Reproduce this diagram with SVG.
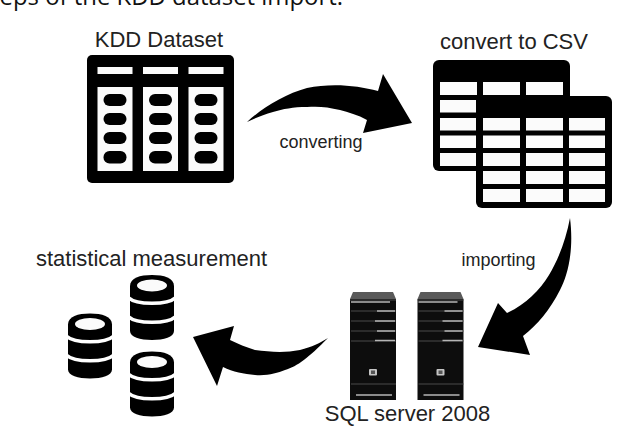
<svg xmlns="http://www.w3.org/2000/svg" width="620" height="426" viewBox="0 0 620 426">
<style>
text{font-family:"Liberation Sans",Arial,sans-serif;fill:#222}
.big{font-size:22px}
.small{font-size:18px}
.w{fill:#fbfbfb}
.k{fill:#000}
.arrow{fill:#000}
.gap{fill:none;stroke:#fff;stroke-width:3.4}
.dim{stroke:#4a4a4a;stroke-width:1;fill:none}
.lit{stroke:#b5b5b5;stroke-width:1.300;fill:none}
</style>
<defs>
<g id="db">
<path class="k" d="M0 11C0 3 10 0 22 0S44 3 44 11V56C44 62 34 65 22 65S0 62 0 56Z"/>
<ellipse class="w" cx="22" cy="10.500" rx="15" ry="6"/>
<path class="gap" d="M-1 23C6 30 38 30 45 23"/>
<path class="gap" d="M-1 42C6 49 38 49 45 42"/>
</g>
<g id="srv">
<path fill="#5a5a5a" d="M3 0H43L46 7H0Z"/>
<rect x="0" y="7" width="46" height="101" fill="#0d0d0d"/>
<path class="dim" d="M0 8H46M1 19H46M1 29H46M1 39H46M1 49H46M1 92H46"/>
<path class="lit" d="M1 10H40M27 19H45M25 29H45M27 39H45M25 48.500H45M6 103H42"/>
<rect x="19" y="77" width="8" height="6.500" rx="1" fill="#c4c4c4"/>
<rect x="21" y="78.500" width="4" height="3.500" fill="#555"/>
</g>
<g id="pills">
<rect class="k" x="0" y="0" width="23" height="12" rx="6"/>
<rect class="k" x="0" y="19" width="23" height="12" rx="6"/>
<rect class="k" x="0" y="38" width="23" height="12" rx="6"/>
<rect class="k" x="0" y="57" width="23" height="12.500" rx="6"/>
</g>
</defs>
<rect width="620" height="426" fill="#fff"/>
<text x="343" y="5" text-anchor="end" style="font-family:'Open Sans',sans-serif;font-size:23.900px;fill:#111">eps of the KDD dataset import.</text>

<g id="kdd-dataset">
<text class="big" x="159" y="47" text-anchor="middle">KDD Dataset</text>
<rect class="k" x="87" y="55" width="147" height="128" rx="5"/>
<rect class="w" x="97.500" y="67" width="35" height="7"/>
<rect class="w" x="143" y="67" width="35" height="7"/>
<rect class="w" x="188.500" y="67" width="35" height="7"/>
<rect class="w" x="97.500" y="87" width="35" height="84"/>
<rect class="w" x="143" y="87" width="35" height="84"/>
<rect class="w" x="188.500" y="87" width="35" height="84"/>
<use href="#pills" x="103.500" y="94"/>
<use href="#pills" x="149" y="94"/>
<use href="#pills" x="194.500" y="94"/>
</g>

<g id="convert-to-csv">
<text class="big" x="514" y="49" text-anchor="middle">convert to CSV</text>
<rect class="k" x="433" y="60" width="137" height="111" rx="6"/>
<g class="w">
<rect x="440" y="82" width="37" height="13"/><rect x="483" y="82" width="37" height="13"/><rect x="526" y="82" width="37" height="13"/>
<rect x="440" y="100" width="36" height="12.500"/><rect x="440" y="118" width="36" height="12.500"/><rect x="440" y="135.500" width="36" height="12.500"/><rect x="440" y="153" width="36" height="13"/>
</g>
<rect class="k" x="476" y="96" width="136" height="112" rx="6"/>
<g class="w">
<rect x="483" y="118" width="37" height="12.500"/><rect x="526" y="118" width="37" height="12.500"/><rect x="569" y="118" width="36" height="12.500"/>
<rect x="483" y="135.500" width="37" height="12.500"/><rect x="526" y="135.500" width="37" height="12.500"/><rect x="569" y="135.500" width="36" height="12.500"/>
<rect x="483" y="153" width="37" height="13"/><rect x="526" y="153" width="37" height="13"/><rect x="569" y="153" width="36" height="13"/>
<rect x="483" y="171" width="37" height="13"/><rect x="526" y="171" width="37" height="13"/><rect x="569" y="171" width="36" height="13"/>
<rect x="483" y="189" width="37" height="13"/><rect x="526" y="189" width="37" height="13"/><rect x="569" y="189" width="36" height="13"/>
</g>
</g>

<g id="sql-server">
<use href="#srv" x="350" y="292"/>
<use href="#srv" x="417.500" y="292"/>
<text x="407.500" y="420.500" text-anchor="middle" class="big">SQL server 2008</text>
</g>

<g id="statistical-measurement">
<text x="151.500" y="266" text-anchor="middle" class="big">statistical measurement</text>
<use href="#db" x="130" y="275"/>
<use href="#db" x="68" y="313.500"/>
<use href="#db" x="130" y="351.500"/>
</g>

<g id="connectors">
<path class="arrow" d="M247 122C262 108 285 94 307 88C330 83 357 85 378 91L383 74L412 123L363 133L367 120C358 115 348 112 340 110C328 107 318 106 307 107C293 107 283 109 273 112C263 115 255 118 247 122Z"/>
<path class="arrow" d="M570 218C574 250 568 275 560 290C550 310 537 325 523 336L530 355L478 347L498 303L507 313C525 305 540 290 549 275C558 260 566 240 570 218Z"/>
<path class="arrow" d="M328 338C320 343 312 347 300 350C285 353 270 352 255 350C246 347 238 344 230 340L234 326L193 337L217 386L223 367C233 372 244 374 255 375C268 376 277 373 285 370C298 366 308 358 328 338Z"/>
</g>

<g id="labels">
<text class="small" x="321" y="148" text-anchor="middle">converting</text>
<text class="small" x="498.500" y="266" text-anchor="middle">importing</text>
</g>
</svg>
